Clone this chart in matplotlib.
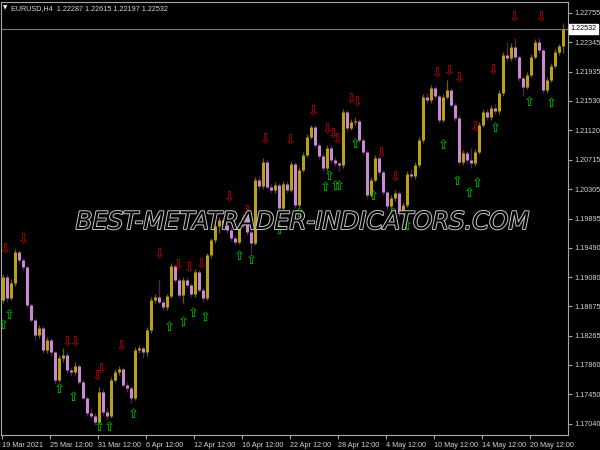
import matplotlib
matplotlib.use('Agg')
import matplotlib.pyplot as plt
import matplotlib.patheffects as pe
from matplotlib import font_manager
from matplotlib.transforms import blended_transform_factory
import numpy as np

# ---------------- data (EURUSD H4) ----------------
symbol = 'EURUSD,H4'
last_ohlc = [1.22287, 1.22615, 1.22197, 1.22532]
first_open = 1.18762
closes = [
    1.19082, 1.18790, 1.18998, 1.19429, 1.19318, 1.19221, 1.18693, 1.18484, 1.18276, 1.18373,
    1.18067, 1.18206, 1.18039, 1.17650, 1.17956, 1.17998, 1.17789, 1.17761, 1.17845, 1.17622,
    1.17400, 1.17191, 1.17150, 1.17066, 1.17483, 1.17205, 1.17150, 1.17650, 1.17761, 1.17803,
    1.17581, 1.17539, 1.17400, 1.18067, 1.18095, 1.18039, 1.18345, 1.18762, 1.18800, 1.18734,
    1.18665, 1.18818, 1.19235, 1.19040, 1.18832, 1.19040, 1.18971, 1.18845, 1.19151, 1.18901,
    1.18790, 1.19388, 1.19596, 1.19791, 1.19874, 1.19805, 1.19735, 1.19624, 1.19568, 1.19805,
    1.19916, 1.19707, 1.19554, 1.20430, 1.20347, 1.20680, 1.20333, 1.20291, 1.20361, 1.20041,
    1.20374, 1.20291, 1.20652, 1.20083, 1.20569, 1.20778, 1.21028, 1.21167, 1.20917, 1.20764,
    1.20597, 1.20875, 1.20708, 1.20666, 1.20639, 1.21375, 1.21153, 1.21236, 1.21250, 1.20986,
    1.20819, 1.20222, 1.20430, 1.20736, 1.20541, 1.20263, 1.20069, 1.20180, 1.20249, 1.19971,
    1.20083, 1.20513, 1.20486, 1.20639, 1.20986, 1.21584, 1.21542, 1.21709, 1.21598, 1.21264,
    1.21584, 1.21681, 1.21473, 1.21292, 1.20680, 1.20805, 1.20708, 1.20666, 1.20819, 1.21195,
    1.21375, 1.21306, 1.21431, 1.21389, 1.21639, 1.22168, 1.22126, 1.22279, 1.22140, 1.21848,
    1.21723, 1.21890, 1.22140, 1.22348, 1.22237, 1.21681, 1.21820, 1.22015, 1.22209, 1.22287,
    1.22532]
highs = [
    1.19120, 1.19130, 1.19050, 1.19470, 1.19460, 1.19350, 1.19250, 1.18720, 1.18510, 1.18420,
    1.18400, 1.18250, 1.18230, 1.18060, 1.18000, 1.18100, 1.18040, 1.17830, 1.17900, 1.17870,
    1.17650, 1.17430, 1.17260, 1.17190, 1.17560, 1.17520, 1.17260, 1.17690, 1.17800, 1.17850,
    1.17830, 1.17620, 1.17570, 1.18110, 1.18130, 1.18120, 1.18390, 1.18800, 1.18840, 1.19040,
    1.18770, 1.18850, 1.19280, 1.19260, 1.19070, 1.19080, 1.19080, 1.19000, 1.19190, 1.19180,
    1.18930, 1.19420, 1.19630, 1.19830, 1.19920, 1.19920, 1.19840, 1.19770, 1.19660, 1.19850,
    1.19960, 1.19940, 1.19740, 1.20470, 1.20480, 1.20730, 1.20710, 1.20380, 1.20400, 1.20390,
    1.20420, 1.20410, 1.20700, 1.20680, 1.20610, 1.20820, 1.21070, 1.21200, 1.21190, 1.20950,
    1.20800, 1.20920, 1.20910, 1.20750, 1.20700, 1.21420, 1.21400, 1.21280, 1.21300, 1.21280,
    1.21010, 1.20850, 1.20470, 1.20780, 1.20760, 1.20570, 1.20290, 1.20220, 1.20290, 1.20280,
    1.20120, 1.20550, 1.20580, 1.20680, 1.21030, 1.21630, 1.21640, 1.21750, 1.21740, 1.21630,
    1.21620, 1.21820, 1.21710, 1.21500, 1.21330, 1.20850, 1.20840, 1.20880, 1.20860, 1.21240,
    1.21420, 1.21410, 1.21470, 1.21480, 1.21680, 1.22210, 1.22350, 1.22330, 1.22400, 1.22170,
    1.21880, 1.21930, 1.22180, 1.22390, 1.22400, 1.22270, 1.21860, 1.22060, 1.22250, 1.22320,
    1.22615]
lows = [
    1.18720, 1.18740, 1.18760, 1.18960, 1.19280, 1.19180, 1.18650, 1.18450, 1.18200, 1.18240,
    1.18030, 1.18030, 1.17980, 1.17600, 1.17620, 1.17900, 1.17750, 1.17700, 1.17720, 1.17590,
    1.17370, 1.17150, 1.17110, 1.17030, 1.17040, 1.17170, 1.17090, 1.17120, 1.17620, 1.17720,
    1.17550, 1.17480, 1.17330, 1.17370, 1.18030, 1.17950, 1.17990, 1.18310, 1.18720, 1.18700,
    1.18620, 1.18630, 1.18790, 1.19000, 1.18790, 1.18720, 1.18940, 1.18810, 1.18810, 1.18870,
    1.18730, 1.18760, 1.19350, 1.19560, 1.19700, 1.19770, 1.19700, 1.19580, 1.19520, 1.19540,
    1.19780, 1.19670, 1.19410, 1.19520, 1.20310, 1.20310, 1.20300, 1.20250, 1.20250, 1.19980,
    1.20010, 1.20250, 1.20260, 1.20040, 1.20050, 1.20540, 1.20750, 1.21000, 1.20880, 1.20720,
    1.20560, 1.20560, 1.20670, 1.20620, 1.20560, 1.20600, 1.21110, 1.21120, 1.21200, 1.20950,
    1.20780, 1.20180, 1.20190, 1.20400, 1.20500, 1.20220, 1.20020, 1.20030, 1.20140, 1.19930,
    1.19940, 1.20050, 1.20440, 1.20450, 1.20600, 1.20950, 1.21500, 1.21500, 1.21560, 1.21220,
    1.21230, 1.21550, 1.21440, 1.21250, 1.20640, 1.20640, 1.20670, 1.20600, 1.20630, 1.20790,
    1.21160, 1.21270, 1.21270, 1.21350, 1.21350, 1.21600, 1.22090, 1.22090, 1.22100, 1.21800,
    1.21600, 1.21690, 1.21860, 1.22110, 1.22200, 1.21640, 1.21640, 1.21790, 1.21980, 1.22170,
    1.22197]

# signal arrows (bar position, price level)
sell_pos = [0.5, 5.0, 16.0, 18.0, 23.5, 24.5, 29.5, 39.0, 43.75, 46.5, 49.5, 56.5, 61.0, 65.5,
            71.75, 77.5, 81.0, 82.5, 83.5, 87.0, 88.5, 94.5, 98.0, 108.5, 111.5, 114.0, 118.0,
            122.5, 127.75, 134.5]
sell_price = [1.19457, 1.19596, 1.18164, 1.18164, 1.17692, 1.17789, 1.18109, 1.19388, 1.19235,
              1.19193, 1.19249, 1.20180, 1.19985, 1.20986, 1.20972, 1.21375, 1.21125, 1.21055,
              1.20986, 1.21542, 1.21500, 1.20791, 1.20458, 1.21903, 1.21931, 1.21834, 1.21153,
              1.21945, 1.22682, 1.22682]
buy_pos = [0.0, 1.5, 14.0, 17.5, 24.0, 26.5, 32.5, 41.5, 45.0, 47.5, 50.5, 59.0, 62.0, 69.0,
           74.0, 80.5, 81.5, 83.0, 84.0, 88.0, 92.5, 97.5, 101.0, 110.0, 113.5, 116.5, 118.5,
           123.0, 131.5, 137.0]
buy_price = [1.18414, 1.18553, 1.17525, 1.17414, 1.16997, 1.16997, 1.17164, 1.18387, 1.18456,
             1.18581, 1.18526, 1.19360, 1.19318, 1.19735, 1.19971, 1.20319, 1.20472, 1.20333,
             1.20333, 1.20917, 1.20194, 1.19971, 1.19777, 1.20903, 1.20416, 1.20249, 1.20388,
             1.21139, 1.21514, 1.21487]

price_ticks = [1.22755, 1.22345, 1.21935, 1.21530, 1.21120, 1.20715, 1.20305, 1.19895,
               1.19490, 1.19080, 1.18675, 1.18265, 1.17860, 1.17450, 1.17040]
time_labels = ['19 Mar 2021', '25 Mar 12:00', '31 Mar 12:00', '6 Apr 12:00', '12 Apr 12:00',
               '16 Apr 12:00', '22 Apr 12:00', '28 Apr 12:00', '4 May 12:00', '10 May 12:00',
               '14 May 12:00', '20 May 12:00']
watermark = 'BEST-METATRADER-INDICATORS.COM'

# ---------------- style ----------------
names = {f.name for f in font_manager.fontManager.ttflist}
if 'Liberation Sans Narrow' in names:
    small_font, small_size = 'Liberation Sans Narrow', 6.0
elif 'Liberation Sans' in names:
    small_font, small_size = 'Liberation Sans', 5.2
else:
    small_font, small_size = 'DejaVu Sans', 4.6

up_body, down_body = '#b89f1c', '#c98bd0'
up_wick, down_wick = '#6e5c10', '#5a1f5e'
axis_col = '#a8a8a8'
text_col = '#d4d4d4'

fig = plt.figure(figsize=(6, 4.5), dpi=100, facecolor='black')
ax = fig.add_axes([1 / 600, 15 / 450, 567 / 600, 433 / 450])
ax.set_facecolor('black')

n = len(closes)
xs = np.arange(n)
opens = np.array([first_open] + closes[:-1])
cl = np.array(closes)
hi = np.array(highs)
lo = np.array(lows)
up = cl >= opens

ax.vlines(xs[up], lo[up], hi[up], colors=up_wick, linewidth=0.9, zorder=2)
ax.vlines(xs[~up], lo[~up], hi[~up], colors=down_wick, linewidth=0.9, zorder=2)
bot = np.minimum(opens, cl)
top = np.maximum(opens, cl)
top = np.maximum(top, bot + 0.00006)
ax.vlines(xs[up], bot[up], top[up], colors=up_body, linewidth=2.2, zorder=3)
ax.vlines(xs[~up], bot[~up], top[~up], colors=down_body, linewidth=2.2, zorder=3)

# arrows
for p, v in zip(sell_pos, sell_price):
    ax.text(p, v, '\u21e9', color='#c80000', fontsize=9.5, ha='center', va='center',
            family='DejaVu Sans', zorder=4)
for p, v in zip(buy_pos, buy_price):
    ax.text(p, v, '\u21e7', color='#00c800', fontsize=9.5, ha='center', va='center',
            family='DejaVu Sans', zorder=4)

# current price line
ax.axhline(closes[-1], color='#7a7a7a', linewidth=0.8, zorder=1)
trans = blended_transform_factory(ax.transAxes, ax.transData)
ax.text(1.004, closes[-1], f'{closes[-1]:.5f}', transform=trans, ha='left', va='center',
        fontsize=small_size, family=small_font, color='black',
        bbox=dict(boxstyle='square,pad=0.2', facecolor='white', edgecolor='white'),
        clip_on=False, zorder=6)

# limits
ax.set_xlim(-0.5, 141.25)
ax.set_ylim(1.16886, 1.22904)

# axes
for s in ax.spines.values():
    s.set_color(axis_col)
    s.set_linewidth(0.8)
ax.yaxis.tick_right()
ax.set_yticks(price_ticks)
ax.set_yticklabels([f'{v:.5f}' for v in price_ticks])
ax.set_xticks(np.arange(len(time_labels)) * 12 - 0.25)
ax.set_xticklabels(time_labels)
ax.tick_params(axis='y', direction='out', length=3, width=0.8, color=axis_col,
               labelcolor=text_col, labelsize=small_size, pad=1.5)
ax.tick_params(axis='x', direction='out', length=3, width=0.8, color=axis_col,
               labelcolor=text_col, labelsize=small_size, pad=2)
for lbl in ax.get_xticklabels():
    lbl.set_ha('left')
    lbl.set_family(small_font)
for lbl in ax.get_yticklabels():
    lbl.set_family(small_font)

# header
ax.text(0.004, 0.992, '\u25bc', transform=ax.transAxes, ha='left', va='top',
        color='white', fontsize=4, family='DejaVu Sans')
ax.text(0.017, 0.994, f'{symbol}  ' + ' '.join(f'{v:.5f}' for v in last_ohlc),
        transform=ax.transAxes, ha='left', va='top', color=text_col,
        fontsize=small_size, family=small_font)

# watermark
wm = ax.text(0.531, 0.492, watermark, transform=ax.transAxes, ha='center', va='center',
             fontsize=17.5, style='italic', family='DejaVu Sans', color='black', zorder=5)
wm.set_path_effects([pe.Stroke(linewidth=1.4, foreground='#c8c8c8'), pe.Normal()])

fig.savefig('out.png', dpi=100, facecolor='black')
